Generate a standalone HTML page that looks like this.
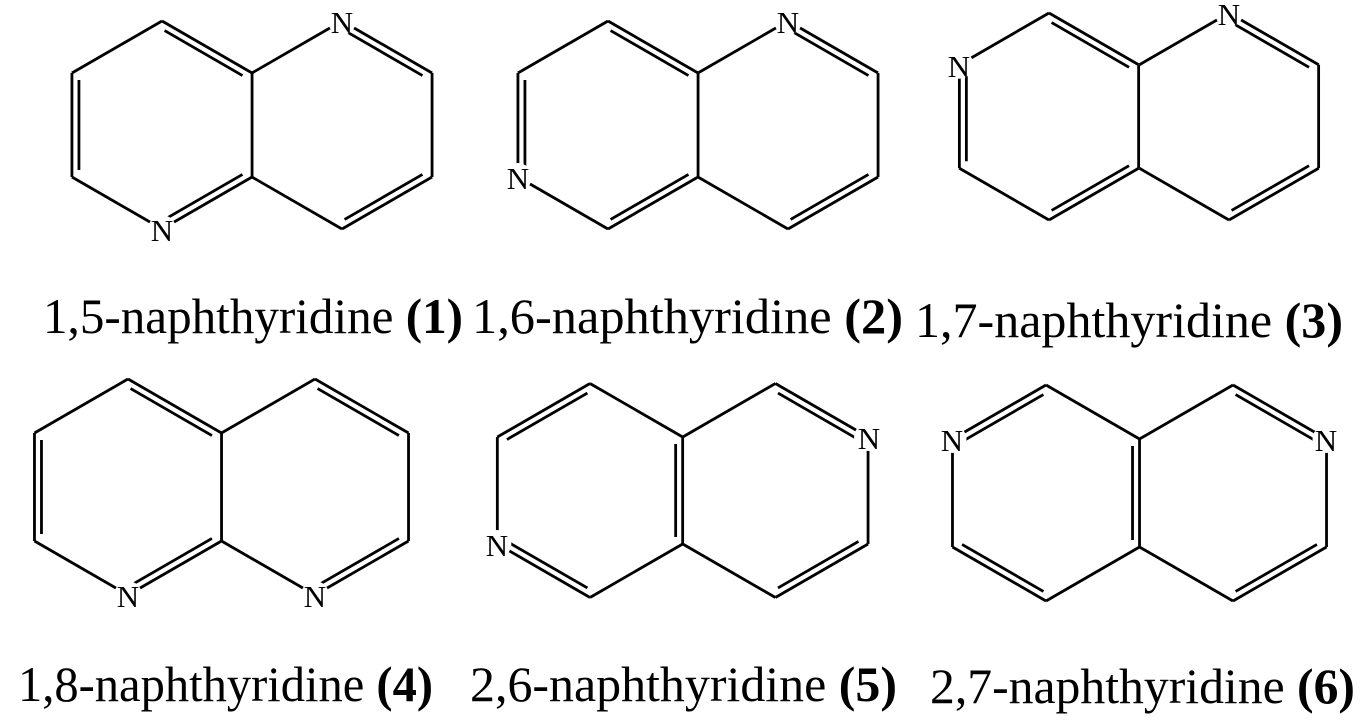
<!DOCTYPE html>
<html><head><meta charset="utf-8"><style>
html,body{margin:0;padding:0;background:#fff;}
svg{display:block;}
.n{font-family:"Liberation Serif",serif;font-size:31px;text-anchor:middle;fill:#000;}
.lb{font-family:"Liberation Serif",serif;font-size:50px;fill:#000;}
</style></head><body>
<svg id="s" width="1365" height="726" viewBox="0 0 1365 726" xmlns="http://www.w3.org/2000/svg">
<g id="bonds" stroke="#000" stroke-width="2.8" stroke-linecap="butt" fill="none"></g>
<g id="masks" fill="#fff"></g>
<g>
<text class="n" x="162" y="241">N</text>
<text class="n" x="342" y="33">N</text>
<text class="n" x="518" y="189">N</text>
<text class="n" x="788" y="33">N</text>
<text class="n" x="959" y="77">N</text>
<text class="n" x="1229" y="25">N</text>
<text class="n" x="128" y="607">N</text>
<text class="n" x="315" y="607">N</text>
<text class="n" x="497" y="556">N</text>
<text class="n" x="869" y="449">N</text>
<text class="n" x="952" y="451">N</text>
<text class="n" x="1326" y="451">N</text>
</g>
<text class="lb" x="43" y="333" textLength="420" lengthAdjust="spacingAndGlyphs">1,5-naphthyridine <tspan font-weight="bold">(1)</tspan></text>
<text class="lb" x="472" y="333" textLength="431" lengthAdjust="spacingAndGlyphs">1,6-naphthyridine <tspan font-weight="bold">(2)</tspan></text>
<text class="lb" x="915" y="337" textLength="428" lengthAdjust="spacingAndGlyphs">1,7-naphthyridine <tspan font-weight="bold">(3)</tspan></text>
<text class="lb" x="18" y="701" textLength="415" lengthAdjust="spacingAndGlyphs">1,8-naphthyridine <tspan font-weight="bold">(4)</tspan></text>
<text class="lb" x="470" y="701" textLength="427" lengthAdjust="spacingAndGlyphs">2,6-naphthyridine <tspan font-weight="bold">(5)</tspan></text>
<text class="lb" x="930" y="703" textLength="425" lengthAdjust="spacingAndGlyphs">2,7-naphthyridine <tspan font-weight="bold">(6)</tspan></text>
</svg>
<script>
(function(){
var NS="http://www.w3.org/2000/svg";
var bonds=document.getElementById("bonds"),masks=document.getElementById("masks");
function ring(cx,cy,R){var h=0.866*R;return [[cx,cy-R],[cx+h,cy-R/2],[cx+h,cy+R/2],[cx,cy+R],[cx-h,cy+R/2],[cx-h,cy-R/2]];}
function line(a,b){var l=document.createElementNS(NS,"line");l.setAttribute("x1",a[0]);l.setAttribute("y1",a[1]);l.setAttribute("x2",b[0]);l.setAttribute("y2",b[1]);bonds.appendChild(l);}
function inner(c,R,a,b){var t=7/(0.866*R);var A=[c[0]+(a[0]-c[0])*(1-t),c[1]+(a[1]-c[1])*(1-t)],B=[c[0]+(b[0]-c[0])*(1-t),c[1]+(b[1]-c[1])*(1-t)];var dx=B[0]-A[0],dy=B[1]-A[1],L=Math.hypot(dx,dy),s=3/L;line([A[0]+dx*s,A[1]+dy*s],[B[0]-dx*s,B[1]-dy*s]);}
function mol(lc,rc,R,Ns,dl,dr){var L=ring(lc[0],lc[1],R),Rr=ring(rc[0],rc[1],R);
for(var i=0;i<6;i++){line(L[i],L[(i+1)%6]);}
for(var i=0;i<6;i++){if(i==4)continue;line(Rr[i],Rr[(i+1)%6]);}
dl.forEach(function(d){inner(lc,R,L[d[0]],L[d[1]]);});
dr.forEach(function(d){inner(rc,R,Rr[d[0]],Rr[d[1]]);});
Ns.forEach(function(n){var p=(n[0]=="L"?L:Rr)[n[1]];var c=document.createElementNS(NS,"circle");c.setAttribute("cx",p[0]);c.setAttribute("cy",p[1]);c.setAttribute("r",14);masks.appendChild(c);});}
var D1=[[0,1],[4,5],[2,3]],D2=[[0,1],[2,3]];
mol([162,125],[342,125],104,[["L",3],["R",0]],D1,D2);
mol([608,125],[788,125],104,[["L",4],["R",0]],D1,D2);
mol([1049,116.5],[1229,116.5],103.5,[["L",5],["R",0]],D1,D2);
mol([128,487],[315,487],108,[["L",3],["R",3]],D1,D2);
mol([590,490.5],[775.4,490.5],107,[["L",4],["R",1]],[[5,0],[3,4],[1,2]],D2);
mol([1046,493],[1233,493],108,[["L",5],["R",1]],[[5,0],[3,4],[1,2]],D2);
})();
</script>
</body></html>
